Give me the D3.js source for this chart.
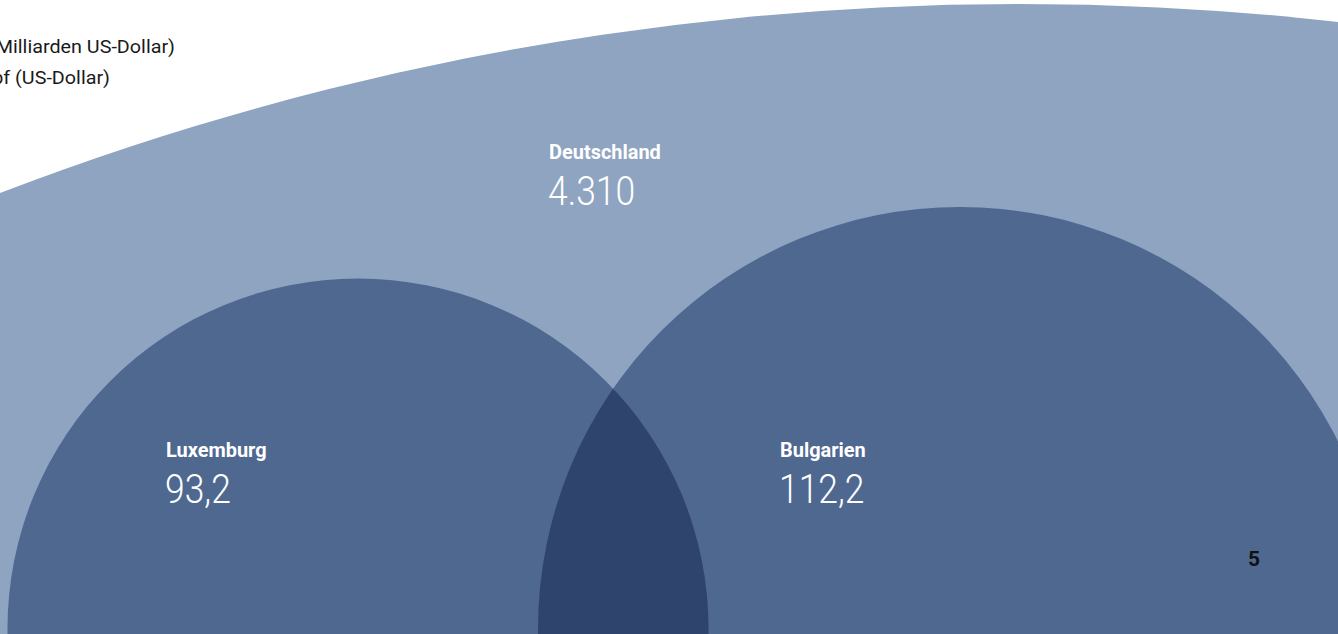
<!DOCTYPE html>
<html>
<head>
<meta charset="utf-8">
<script src="https://cdn.jsdelivr.net/npm/d3@7"></script>
<style>
    html, body { margin: 0; padding: 0; background: #fff; overflow: hidden; }
    #chart { width: 1338px; height: 634px; }
    text { font-family: Roboto, "Liberation Sans", sans-serif; }
</style>
</head>
<body>
<div id="chart"></div>
<script>
// Values (BIP, Milliarden US-Dollar)
const countries = ["Deutschland", "Luxemburg", "Bulgarien"];
const values = [4310, 93.2, 112.2];
const valueLabels = ["4.310", "93,2", "112,2"];
const legendLines = ["BIP (Milliarden US-Dollar)", "BIP pro Kopf (US-Dollar)"];
const pageNumber = "5";

const width = 1338, height = 634;

// Layout per country: circle centre and label anchor
const layout = {
    Deutschland: {cx: 1019, cy: 2844, lx: 549, ly: 159, fill: "#8fa4c1"},
    Luxemburg:   {cx: 358,  cy: 629,  lx: 166, ly: 457, fill: "#4f6890"},
    Bulgarien:   {cx: 960,  cy: 629,  lx: 780, ly: 457, fill: "#4f6890"}
};

const data = countries.map((c, i) => ({name: c, value: values[i], label: valueLabels[i]}));

// Radius scale: small countries on a common linear scale, Germany capped
const r = d3.scaleLinear()
    .domain([0, 112.2, 4310])
    .range([0, 422, 2840]);

const svg = d3.select("#chart").append("svg")
    .attr("width", width)
    .attr("height", height);

const defs = svg.append("defs");
defs.append("clipPath")
    .attr("id", "clip-lux")
    .append("circle")
    .attr("cx", layout.Luxemburg.cx)
    .attr("cy", layout.Luxemburg.cy)
    .attr("r", r(data[1].value));

// Circles
svg.selectAll(".bubble")
    .data(data)
    .enter()
    .append("circle")
    .attr("class", "bubble")
    .attr("cx", d => layout[d.name].cx)
    .attr("cy", d => layout[d.name].cy)
    .attr("r", d => r(d.value))
    .attr("fill", d => layout[d.name].fill);

// Overlap of Luxemburg and Bulgarien
svg.append("circle")
    .attr("cx", layout.Bulgarien.cx)
    .attr("cy", layout.Bulgarien.cy)
    .attr("r", r(data[2].value))
    .attr("clip-path", "url(#clip-lux)")
    .attr("fill", "#2e446d");

// Labels
const labels = svg.selectAll(".label")
    .data(data)
    .enter()
    .append("g")
    .attr("class", "label")
    .attr("transform", d => `translate(${layout[d.name].lx}, ${layout[d.name].ly})`);

labels.append("text")
    .attr("transform", "scale(0.95,1)")
    .attr("fill", "#fff")
    .attr("font-size", 21)
    .attr("font-weight", 700)
    .text(d => d.name);

labels.append("text")
    .attr("transform", "translate(-1, 46) scale(0.865,1)")
    .attr("fill", "#fff")
    .attr("font-size", 41)
    .attr("font-weight", 300)
    .text(d => d.label);

// Legend lines, cut at left edge
const legendEnds = [175, 110];
svg.selectAll(".legend")
    .data(legendLines)
    .enter()
    .append("text")
    .attr("class", "legend")
    .attr("transform", (d, i) => `translate(${legendEnds[i]}, ${53 + i * 31}) scale(1.04,1)`)
    .attr("text-anchor", "end")
    .attr("fill", "#1a1a1a")
    .attr("font-size", 19)
    .text(d => d);

// Page number
svg.append("text")
    .attr("x", 1254)
    .attr("y", 566)
    .attr("text-anchor", "middle")
    .attr("font-family", "'Liberation Sans', Arial, sans-serif")
    .attr("font-weight", 700)
    .attr("font-size", 21)
    .attr("fill", "#111")
    .text(pageNumber);
</script>
</body>
</html>
